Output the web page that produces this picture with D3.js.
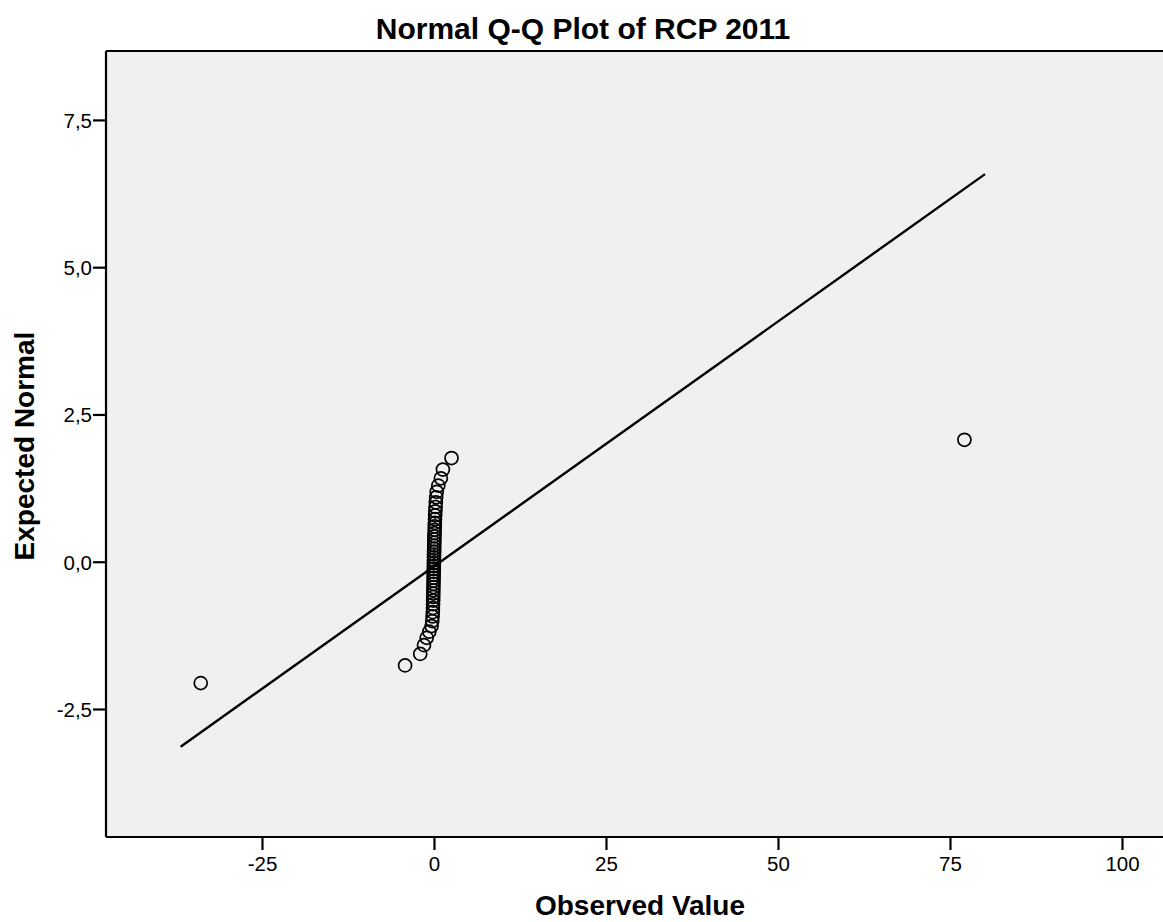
<!DOCTYPE html>
<html><head><meta charset="utf-8">
<script src="https://cdn.jsdelivr.net/npm/d3@7"></script>
<style>html,body{margin:0;padding:0;background:#fff;overflow:hidden}</style>
</head><body>
<svg id="c" width="1163" height="922"></svg>
<script>
const observed = [-33.9, -4.2, -2.0, -1.45, -1.06, -0.68, -0.35, -0.25, -0.2, -0.17,
  -0.15, -0.13, -0.12, -0.11, -0.1, -0.09, -0.08, -0.07, -0.06, -0.05,
  -0.05, -0.04, -0.03, -0.02, -0.02, -0.01, 0.0, 0.01, 0.02, 0.03,
  0.04, 0.05, 0.06, 0.07, 0.08, 0.1, 0.11, 0.13, 0.15, 0.17,
  0.2, 0.23, 0.27, 0.32, 0.4, 0.63, 1.0, 1.3, 2.55, 77.1];
const expected = [-2.06, -1.76, -1.565, -1.416, -1.292, -1.187, -1.093, -1.007, -0.929, -0.856,
  -0.787, -0.722, -0.659, -0.599, -0.541, -0.485, -0.431, -0.377, -0.325, -0.274,
  -0.223, -0.173, -0.123, -0.074, -0.025, 0.025, 0.074, 0.123, 0.173, 0.223,
  0.274, 0.325, 0.377, 0.431, 0.485, 0.541, 0.599, 0.659, 0.722, 0.787,
  0.856, 0.929, 1.007, 1.093, 1.187, 1.292, 1.416, 1.565, 1.76, 2.07];
const refLineX = [-36.82, 80.09];
const refLineY = [-3.14, 6.58];
const xTicks = [-25, 0, 25, 50, 75, 100];
const yTicks = [-2.5, 0, 2.5, 5, 7.5];
const xDomain = [-47.67, 105.96];
const yDomain = [-4.673, 8.67];

const L = 106, R = 1163, T = 51, B = 837;
const svg = d3.select("#c");
const x = d3.scaleLinear().domain(xDomain).range([L, R]);
const y = d3.scaleLinear().domain(yDomain).range([B, T]);
const font = "'Liberation Sans', Arial, sans-serif";

svg.append("rect").attr("x", L).attr("y", T).attr("width", R - L).attr("height", B - T).attr("fill", "#f0f0f0");

const fmtY = d => d3.format(".1f")(d).replace("−", "-").replace(".", ",");
const fmtX = d => String(d);

const gx = svg.append("g").attr("transform", `translate(0,${B})`)
  .call(d3.axisBottom(x).tickValues(xTicks).tickFormat(fmtX).tickSize(13).tickSizeOuter(0));
const gy = svg.append("g").attr("transform", `translate(${L},0)`)
  .call(d3.axisLeft(y).tickValues(yTicks).tickFormat(fmtY).tickSize(13).tickSizeOuter(0));
[gx, gy].forEach(g => {
  g.select(".domain").remove();
  g.selectAll(".tick line").attr("stroke", "#000").attr("stroke-width", 2.2);
  g.selectAll(".tick text").attr("font-family", font).attr("font-size", 20.5).attr("fill", "#000");
});
gx.selectAll(".tick text").attr("dy", null).attr("y", 34);
gy.selectAll(".tick text").attr("x", -14).attr("dy", "0.36em");

// frame lines
svg.append("line").attr("x1", L).attr("x2", R).attr("y1", T).attr("y2", T).attr("stroke", "#000").attr("stroke-width", 2.2);
svg.append("line").attr("x1", L).attr("x2", R).attr("y1", B).attr("y2", B).attr("stroke", "#000").attr("stroke-width", 2.2);
svg.append("line").attr("x1", L).attr("x2", L).attr("y1", T).attr("y2", B).attr("stroke", "#000").attr("stroke-width", 2.2);

// reference line
svg.append("line")
  .attr("x1", x(refLineX[0])).attr("y1", y(refLineY[0]))
  .attr("x2", x(refLineX[1])).attr("y2", y(refLineY[1]))
  .attr("stroke", "#000").attr("stroke-width", 2.4);

// points
const pts = observed.map((v, i) => ({o: v, e: expected[i]}));
svg.append("g").selectAll("circle").data(pts).join("circle")
  .attr("cx", d => x(d.o)).attr("cy", d => y(d.e)).attr("r", 6.5)
  .attr("fill", "none").attr("stroke", "#000").attr("stroke-width", 1.7);

// titles
svg.append("text").attr("x", 583).attr("y", 39).attr("text-anchor", "middle")
  .attr("font-family", font).attr("font-weight", "bold").attr("font-size", 30)
  .text("Normal Q-Q Plot of RCP 2011");
svg.append("text").attr("x", 640).attr("y", 915).attr("text-anchor", "middle")
  .attr("font-family", font).attr("font-weight", "bold").attr("font-size", 28)
  .text("Observed Value");
svg.append("text").attr("transform", "translate(34,446) rotate(-90)").attr("text-anchor", "middle")
  .attr("font-family", font).attr("font-weight", "bold").attr("font-size", 28)
  .text("Expected Normal");
</script>
</body></html>
